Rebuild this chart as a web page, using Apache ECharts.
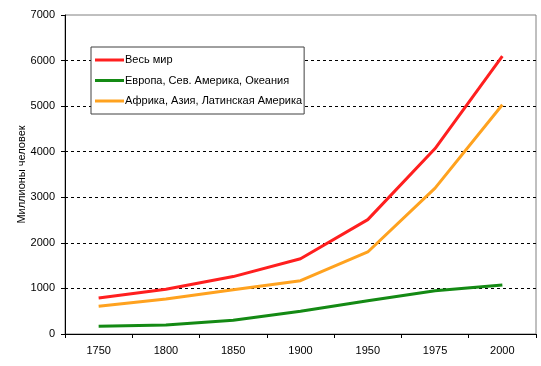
<!DOCTYPE html>
<html><head><meta charset="utf-8">
<script src="https://cdn.jsdelivr.net/npm/echarts@6/dist/echarts.min.js"></script>
<style>html,body{margin:0;padding:0;background:#fff}#c{width:541px;height:366px}</style>
</head><body><div id="c"></div>
<script>
const years = ['1750','1800','1850','1900','1950','1975','2000'];
const world = [790, 980, 1260, 1650, 2510, 4070, 6100];
const europe = [170, 200, 300, 500, 730, 950, 1075];
const africa = [610, 770, 970, 1170, 1800, 3200, 5030];
const seriesNames = ['Весь мир', 'Европа, Сев. Америка, Океания', 'Африка, Азия, Латинская Америка'];
const yTitle = 'Миллионы человек';

const chart = echarts.init(document.getElementById('c'), null, {renderer:'canvas'});
const font = 'Liberation Sans, Arial, sans-serif';
function mk(name, data, color){
  return {name, type:'line', data, symbol:'none', smooth:false,
    lineStyle:{color, width:3}, itemStyle:{color}, z:3};
}
chart.setOption({
  animation:false,
  textStyle:{fontFamily:font},
  grid:{left:65, right:5, top:15, bottom:32, show:true, borderColor:'#808080', borderWidth:1, backgroundColor:'#fff'},
  legend:{
    orient:'vertical', left:91, top:47,
    backgroundColor:'#fff', borderColor:'#404040', borderWidth:1,
    padding:[6,2,6,4], itemGap:6.5, itemWidth:29, itemHeight:3,
    icon:'rect',
    textStyle:{fontFamily:font, fontSize:11, color:'#000', lineHeight:14, padding:[0,0,0,-4]},
    data: seriesNames
  },
  xAxis:{type:'category', data:years, boundaryGap:true,
    axisLine:{lineStyle:{color:'#000', width:1}},
    axisTick:{show:true, length:4, lineStyle:{color:'#000'}},
    axisLabel:{color:'#000', fontSize:11, fontFamily:font, margin:11},
    splitLine:{show:false}},
  yAxis:{type:'value', min:0, max:7000, interval:1000,
    name:yTitle, nameLocation:'middle', nameGap:38, nameRotate:90, nameMoveOverlap:false,
    nameTextStyle:{color:'#000', fontSize:11, fontFamily:font},
    axisLine:{show:true, lineStyle:{color:'#000', width:1}},
    axisTick:{show:true, length:4, lineStyle:{color:'#000'}},
    axisLabel:{color:'#000', fontSize:11, fontFamily:font, margin:10, formatter:v=>String(v)},
    splitLine:{show:true, showMinLine:false, showMaxLine:false, lineStyle:{color:'#000', type:[3,3], width:1}}},
  series:[
    mk(seriesNames[0], world, '#ff1f1f'),
    mk(seriesNames[1], europe, '#148a14'),
    mk(seriesNames[2], africa, '#ffa21f')
  ]
});
</script></body></html>
